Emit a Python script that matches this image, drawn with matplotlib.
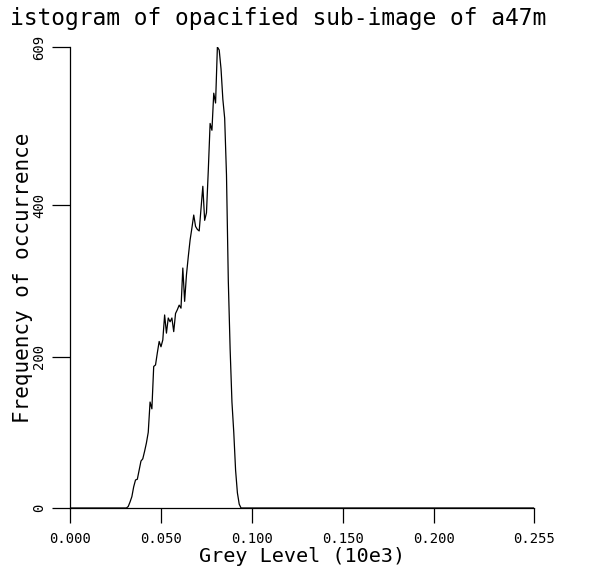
import numpy as np
import matplotlib
matplotlib.use("Agg")
import matplotlib.pyplot as plt

# histogram counts per grey level (only the non-zero stretch, grey 32..94)
first_level = 32
counts = [2, 8, 15, 28, 37, 38, 50, 62, 65, 75, 86, 100, 140, 131, 187,
          189, 205, 220, 213, 222, 255, 231, 251, 246, 251, 233, 257, 262,
          268, 264, 317, 273, 308, 332, 354, 370, 387, 372, 368, 366, 395,
          425, 380, 390, 446, 508, 499, 548, 535, 609, 605, 580, 540, 515,
          440, 300, 210, 140, 100, 50, 20, 5, 0]

x_ticks = [0.0, 0.05, 0.10, 0.15, 0.20, 0.255]
x_ticklabels = ["0.000", "0.050", "0.100", "0.150", "0.200", "0.255"]
y_ticks = [0, 200, 400, 609]
y_ticklabels = ["0", "200", "400", "609"]

title = "istogram of opacified sub-image of a47m"
x_label = "Grey Level (10e3)"
y_label = "Frequency of occurrence"

FONT = "DejaVu Sans Mono"

freq = np.zeros(256)
freq[first_level:first_level + len(counts)] = counts
grey = np.arange(256) / 1000.0

fig = plt.figure(figsize=(5.95, 5.68), dpi=100)
fig.patch.set_facecolor("white")
ax = fig.add_axes([70 / 595, 60 / 568, 464 / 595, 461 / 568])

ax.plot(grey, freq, color="black", linewidth=0.9)

ax.set_xlim(0, 0.255)
ax.set_ylim(0, 609)
ax.spines["top"].set_visible(False)
ax.spines["right"].set_visible(False)
for side in ("left", "bottom"):
    ax.spines[side].set_linewidth(0.9)

ax.set_xticks(x_ticks)
ax.set_xticklabels(x_ticklabels, family=FONT, fontsize=10)
ax.set_yticks(y_ticks)
ax.set_yticklabels(y_ticklabels, family=FONT, fontsize=10, rotation=90, va="center")
ax.tick_params(axis="x", direction="out", length=10.5, width=0.9, pad=7)
ax.tick_params(axis="y", direction="out", length=13, width=0.9, pad=4)

ax.set_xlabel(x_label, family=FONT, fontsize=14.5, va="center")
ax.xaxis.set_label_coords(0.5, -49 / 461)
ax.set_ylabel(y_label, family=FONT, fontsize=15, va="center")
ax.yaxis.set_label_coords(-47 / 464, 0.5)

fig.text(10 / 595, 1 - 18 / 568, title, family=FONT, fontsize=16.5,
         ha="left", va="center")

plt.savefig("out.png", dpi=100, facecolor="white")
plt.close()
